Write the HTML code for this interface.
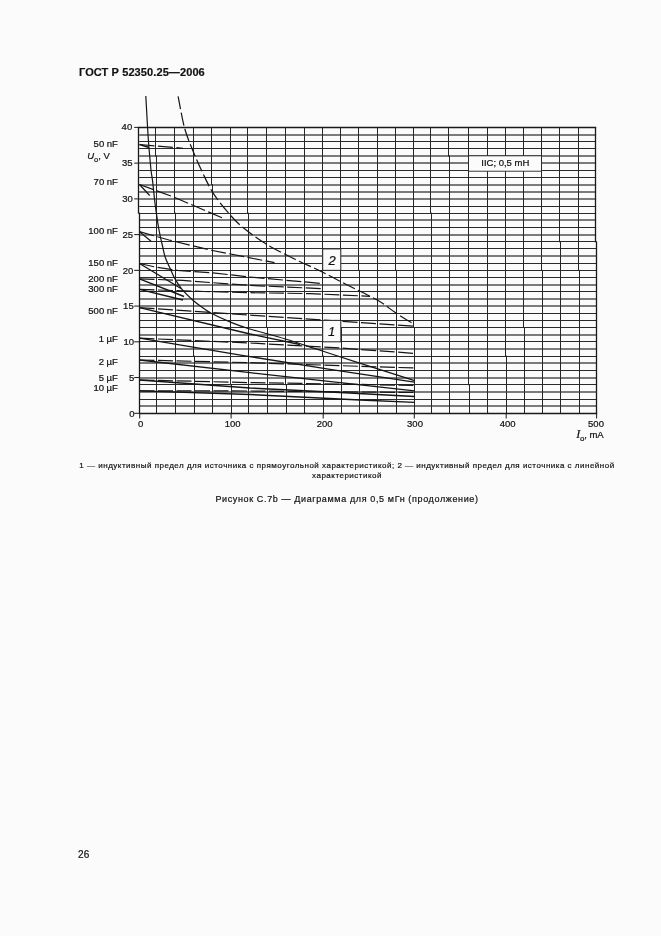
<!DOCTYPE html>
<html lang="ru"><head><meta charset="utf-8"><title>ГОСТ Р 52350.25—2006</title>
<style>
html,body{margin:0;padding:0;background:#fbfbfb;}
body{width:661px;height:936px;position:relative;overflow:hidden;font-family:"Liberation Sans",sans-serif;color:#111;-webkit-text-stroke:0.2px #111;}
svg{position:absolute;left:0;top:0;will-change:transform;}
.hdr,.note,.cap,.pn{will-change:transform;}
svg text{font-family:"Liberation Sans",sans-serif;fill:#111;stroke:#111;stroke-width:0.22px;}
.t9{font-size:9.5px;}
.lab{font-size:13px;font-style:italic;}
.gh{stroke:#2a2a2a;stroke-width:1;}
.gg{stroke:#505050;stroke-width:1.3;}
.gv{stroke:#262626;stroke-width:1;}
.fr{fill:none;stroke:#1a1a1a;stroke-width:1.3;}
.tk{stroke:#1a1a1a;stroke-width:1;}
.cs{fill:none;stroke:#151515;stroke-width:1.2;}
.cd2{fill:none;stroke:#151515;stroke-width:1.2;stroke-dasharray:13 3.5;}
.ls{fill:none;stroke:#151515;stroke-width:1.35;}
.ld{fill:none;stroke:#151515;stroke-width:1.2;stroke-dasharray:15 3.5;}
.hdr{position:absolute;left:78.5px;top:65.5px;font-size:11px;font-weight:bold;letter-spacing:0.1px;white-space:nowrap;line-height:13px;}
.note{position:absolute;left:46.5px;width:600px;top:461.2px;font-size:8px;line-height:10px;text-align:center;letter-spacing:0.5px;white-space:nowrap;}
.cap{position:absolute;left:46.5px;width:600px;top:493.2px;font-size:9px;text-align:center;letter-spacing:0.63px;line-height:12px;white-space:nowrap;}
.pn{position:absolute;left:77.8px;top:848.6px;font-size:10px;line-height:12px;letter-spacing:0.2px;}
</style></head><body>
<div class="hdr">ГОСТ Р 52350.25—2006</div>
<svg width="661" height="936" viewBox="0 0 661 936">
<line x1="139.2" y1="406.00" x2="596.1" y2="406.00" class="gg"/>
<line x1="139.2" y1="399.50" x2="596.1" y2="399.50" class="gh"/>
<line x1="139.2" y1="392.00" x2="596.1" y2="392.00" class="gg"/>
<line x1="139.2" y1="384.50" x2="596.1" y2="384.50" class="gh"/>
<line x1="139.2" y1="378.00" x2="596.1" y2="378.00" class="gg"/>
<line x1="139.2" y1="370.50" x2="596.1" y2="370.50" class="gh"/>
<line x1="139.2" y1="363.00" x2="596.1" y2="363.00" class="gg"/>
<line x1="139.2" y1="356.50" x2="596.1" y2="356.50" class="gh"/>
<line x1="139.2" y1="349.00" x2="596.1" y2="349.00" class="gg"/>
<line x1="139.2" y1="341.50" x2="596.1" y2="341.50" class="gh"/>
<line x1="139.2" y1="335.00" x2="596.1" y2="335.00" class="gg"/>
<line x1="139.2" y1="327.50" x2="596.1" y2="327.50" class="gh"/>
<line x1="139.2" y1="320.50" x2="596.1" y2="320.50" class="gh"/>
<line x1="139.2" y1="313.50" x2="596.1" y2="313.50" class="gh"/>
<line x1="139.2" y1="306.00" x2="596.1" y2="306.00" class="gg"/>
<line x1="139.2" y1="299.00" x2="596.1" y2="299.00" class="gg"/>
<line x1="139.2" y1="291.50" x2="596.1" y2="291.50" class="gh"/>
<line x1="139.2" y1="285.00" x2="596.1" y2="285.00" class="gg"/>
<line x1="139.2" y1="277.50" x2="596.1" y2="277.50" class="gh"/>
<line x1="139.2" y1="270.50" x2="596.1" y2="270.50" class="gh"/>
<line x1="139.2" y1="263.50" x2="596.1" y2="263.50" class="gh"/>
<line x1="139.2" y1="256.00" x2="596.1" y2="256.00" class="gg"/>
<line x1="139.2" y1="248.50" x2="596.1" y2="248.50" class="gh"/>
<line x1="139.2" y1="241.50" x2="596.1" y2="241.50" class="gh"/>
<line x1="139.2" y1="235.00" x2="596.1" y2="235.00" class="gg"/>
<line x1="139.2" y1="227.50" x2="596.1" y2="227.50" class="gh"/>
<line x1="139.2" y1="220.00" x2="596.1" y2="220.00" class="gg"/>
<line x1="139.2" y1="213.50" x2="596.1" y2="213.50" class="gh"/>
<line x1="139.2" y1="206.50" x2="596.1" y2="206.50" class="gh"/>
<line x1="139.2" y1="199.00" x2="596.1" y2="199.00" class="gg"/>
<line x1="139.2" y1="192.00" x2="596.1" y2="192.00" class="gg"/>
<line x1="139.2" y1="185.00" x2="596.1" y2="185.00" class="gg"/>
<line x1="139.2" y1="177.50" x2="596.1" y2="177.50" class="gh"/>
<line x1="139.2" y1="170.50" x2="596.1" y2="170.50" class="gh"/>
<line x1="139.2" y1="163.00" x2="596.1" y2="163.00" class="gg"/>
<line x1="139.2" y1="156.00" x2="596.1" y2="156.00" class="gg"/>
<line x1="139.2" y1="148.50" x2="596.1" y2="148.50" class="gh"/>
<line x1="139.2" y1="141.50" x2="596.1" y2="141.50" class="gh"/>
<line x1="139.2" y1="135.00" x2="596.1" y2="135.00" class="gg"/>
<line x1="155.5" y1="127.4" x2="155.5" y2="156.5" class="gv"/>
<line x1="156.5" y1="155.5" x2="156.5" y2="413.3" class="gv"/>
<line x1="174.5" y1="127.4" x2="174.5" y2="213.7" class="gv"/>
<line x1="175.5" y1="212.7" x2="175.5" y2="413.3" class="gv"/>
<line x1="193.5" y1="127.4" x2="193.5" y2="356.6" class="gv"/>
<line x1="194.5" y1="355.6" x2="194.5" y2="413.3" class="gv"/>
<line x1="211.5" y1="127.4" x2="211.5" y2="185.1" class="gv"/>
<line x1="212.5" y1="184.1" x2="212.5" y2="413.3" class="gv"/>
<line x1="230.5" y1="127.4" x2="230.5" y2="385.2" class="gv"/>
<line x1="231.5" y1="384.2" x2="231.5" y2="413.3" class="gv"/>
<line x1="247.5" y1="127.4" x2="247.5" y2="213.7" class="gv"/>
<line x1="248.5" y1="212.7" x2="248.5" y2="413.3" class="gv"/>
<line x1="266.5" y1="127.4" x2="266.5" y2="328.0" class="gv"/>
<line x1="267.5" y1="327.0" x2="267.5" y2="413.3" class="gv"/>
<line x1="285.5" y1="127.4" x2="285.5" y2="385.2" class="gv"/>
<line x1="286.5" y1="384.2" x2="286.5" y2="413.3" class="gv"/>
<line x1="304.5" y1="127.4" x2="304.5" y2="413.8" class="gv"/>
<line x1="305.5" y1="412.8" x2="305.5" y2="413.3" class="gv"/>
<line x1="322.5" y1="127.4" x2="322.5" y2="356.6" class="gv"/>
<line x1="323.5" y1="355.6" x2="323.5" y2="413.3" class="gv"/>
<line x1="340.5" y1="127.4" x2="340.5" y2="328.0" class="gv"/>
<line x1="341.5" y1="327.0" x2="341.5" y2="413.3" class="gv"/>
<line x1="358.5" y1="127.4" x2="358.5" y2="270.9" class="gv"/>
<line x1="359.5" y1="269.9" x2="359.5" y2="413.3" class="gv"/>
<line x1="377.5" y1="127.4" x2="377.5" y2="413.8" class="gv"/>
<line x1="378.5" y1="412.8" x2="378.5" y2="413.3" class="gv"/>
<line x1="395.5" y1="127.4" x2="395.5" y2="270.9" class="gv"/>
<line x1="396.5" y1="269.9" x2="396.5" y2="413.3" class="gv"/>
<line x1="413.5" y1="127.4" x2="413.5" y2="328.0" class="gv"/>
<line x1="414.5" y1="327.0" x2="414.5" y2="413.3" class="gv"/>
<line x1="430.5" y1="127.4" x2="430.5" y2="213.7" class="gv"/>
<line x1="431.5" y1="212.7" x2="431.5" y2="413.3" class="gv"/>
<line x1="448.5" y1="127.4" x2="448.5" y2="156.5" class="gv"/>
<line x1="449.5" y1="155.5" x2="449.5" y2="413.3" class="gv"/>
<line x1="468.5" y1="127.4" x2="468.5" y2="385.2" class="gv"/>
<line x1="469.5" y1="384.2" x2="469.5" y2="413.3" class="gv"/>
<line x1="487.5" y1="127.4" x2="487.5" y2="413.8" class="gv"/>
<line x1="488.5" y1="412.8" x2="488.5" y2="413.3" class="gv"/>
<line x1="505.5" y1="127.4" x2="505.5" y2="356.6" class="gv"/>
<line x1="506.5" y1="355.6" x2="506.5" y2="413.3" class="gv"/>
<line x1="523.5" y1="127.4" x2="523.5" y2="328.0" class="gv"/>
<line x1="524.5" y1="327.0" x2="524.5" y2="413.3" class="gv"/>
<line x1="541.5" y1="127.4" x2="541.5" y2="270.9" class="gv"/>
<line x1="542.5" y1="269.9" x2="542.5" y2="413.3" class="gv"/>
<line x1="559.5" y1="127.4" x2="559.5" y2="242.3" class="gv"/>
<line x1="560.5" y1="241.3" x2="560.5" y2="413.3" class="gv"/>
<line x1="578.5" y1="127.4" x2="578.5" y2="270.9" class="gv"/>
<line x1="579.5" y1="269.9" x2="579.5" y2="413.3" class="gv"/>
<line x1="138.5" y1="127.4" x2="138.5" y2="213.7" class="fr"/>
<line x1="139.5" y1="212.7" x2="139.5" y2="413.3" class="fr"/>
<line x1="595.5" y1="127.4" x2="595.5" y2="242.3" class="fr"/>
<line x1="596.5" y1="241.3" x2="596.5" y2="413.3" class="fr"/>
<line x1="138.1" y1="127.5" x2="596.2" y2="127.5" class="fr"/>
<line x1="139.1" y1="413.5" x2="597.2" y2="413.5" class="fr"/>
<line x1="134.2" y1="413.30" x2="139.2" y2="413.30" class="tk"/>
<text x="134.6" y="417.0" class="t9" text-anchor="end">0</text>
<line x1="134.2" y1="377.56" x2="139.2" y2="377.56" class="tk"/>
<text x="134.3" y="381.1" class="t9" text-anchor="end">5</text>
<line x1="134.2" y1="341.83" x2="139.2" y2="341.83" class="tk"/>
<text x="134.0" y="345.2" class="t9" text-anchor="end">10</text>
<line x1="134.2" y1="306.09" x2="139.2" y2="306.09" class="tk"/>
<text x="133.7" y="309.3" class="t9" text-anchor="end">15</text>
<line x1="134.2" y1="270.35" x2="139.2" y2="270.35" class="tk"/>
<text x="133.4" y="273.5" class="t9" text-anchor="end">20</text>
<line x1="134.2" y1="234.61" x2="139.2" y2="234.61" class="tk"/>
<text x="133.1" y="237.6" class="t9" text-anchor="end">25</text>
<line x1="134.2" y1="198.88" x2="139.2" y2="198.88" class="tk"/>
<text x="132.8" y="201.7" class="t9" text-anchor="end">30</text>
<line x1="134.2" y1="163.14" x2="139.2" y2="163.14" class="tk"/>
<text x="132.5" y="165.8" class="t9" text-anchor="end">35</text>
<line x1="134.2" y1="127.40" x2="139.2" y2="127.40" class="tk"/>
<text x="132.2" y="129.9" class="t9" text-anchor="end">40</text>
<line x1="139.70" y1="413.3" x2="139.70" y2="418.5" class="tk"/>
<text x="140.6" y="427.2" class="t9" text-anchor="middle">0</text>
<line x1="231.10" y1="413.3" x2="231.10" y2="418.5" class="tk"/>
<text x="232.6" y="427.2" class="t9" text-anchor="middle">100</text>
<line x1="323.20" y1="413.3" x2="323.20" y2="418.5" class="tk"/>
<text x="324.6" y="427.2" class="t9" text-anchor="middle">200</text>
<line x1="414.30" y1="413.3" x2="414.30" y2="418.5" class="tk"/>
<text x="415.0" y="427.2" class="t9" text-anchor="middle">300</text>
<line x1="506.20" y1="413.3" x2="506.20" y2="418.5" class="tk"/>
<text x="507.6" y="427.2" class="t9" text-anchor="middle">400</text>
<line x1="596.60" y1="413.3" x2="596.60" y2="418.5" class="tk"/>
<text x="596.0" y="427.2" class="t9" text-anchor="middle">500</text>
<path d="M145.8,96.0 C146.1,101.3 147.1,119.3 147.6,128.0 C148.1,136.7 148.4,141.0 149.0,148.0 C149.6,155.0 150.4,164.3 151.0,170.0 C151.6,175.7 152.0,175.9 152.7,182.0 C153.4,188.1 154.3,198.3 155.4,206.3 C156.5,214.3 157.8,223.4 159.0,230.0 C160.2,236.6 161.4,241.4 162.5,246.0 C163.6,250.6 164.1,254.0 165.3,257.5 C166.5,261.0 167.9,263.5 169.5,267.0 C171.1,270.5 172.7,274.7 174.7,278.3 C176.7,281.9 178.5,285.2 181.6,288.9 C184.7,292.6 189.5,297.2 193.2,300.5 C196.9,303.8 200.7,306.3 203.8,308.5 C206.9,310.7 207.0,311.1 211.7,313.5 C216.3,315.9 225.3,320.0 231.7,322.6 C238.0,325.2 240.9,326.3 249.8,329.0 C258.8,331.7 273.4,335.4 285.4,339.0 C297.4,342.6 309.6,346.9 321.7,350.8 C333.8,354.7 342.5,357.6 358.0,362.6 C373.5,367.6 405.2,377.6 414.6,380.6" class="cs"/>
<path d="M178.1,96.4 C179.2,101.6 182.1,118.9 184.5,127.8 C186.9,136.7 189.6,142.5 192.6,150.0 C195.6,157.5 199.1,165.4 202.6,172.7 C206.1,180.0 209.1,186.8 213.5,193.6 C217.9,200.4 224.1,208.0 229.0,213.6 C233.9,219.2 236.6,222.3 242.7,227.3 C248.8,232.3 256.8,238.3 265.4,243.6 C274.0,248.9 285.1,254.3 294.5,259.0 C303.9,263.7 313.1,267.4 321.7,271.7 C330.3,275.9 337.1,279.8 346.3,284.5 C355.6,289.2 369.0,295.3 377.2,300.0 C385.4,304.7 389.1,308.5 395.3,312.6 C401.5,316.7 411.2,322.5 414.4,324.5" class="cd2"/>
<path d="M139.5,144.5 L149.0,147.5" class="ls"/>
<path d="M139.5,144.5 L183.0,148.3" class="ld"/>
<path d="M139.5,184.5 L152.0,198.0" class="ld"/>
<path d="M139.5,184.5 L173.6,197.0 L222.6,218.0" class="ld"/>
<path d="M139.5,231.7 L152.0,242.0" class="ld"/>
<path d="M139.5,231.7 L169.0,240.0 L210.0,250.0 L246.0,257.0 L274.5,262.7" class="ld"/>
<path d="M139.5,263.5 L181.0,288.5" class="ls"/>
<path d="M139.5,263.5 L156.2,267.2 L177.4,270.4 L211.7,272.7 L250.0,277.0 L321.7,283.5" class="ld"/>
<path d="M139.5,278.8 L184.0,296.5" class="ls"/>
<path d="M139.5,278.8 L182.7,280.4 L224.4,283.6 L250.0,285.4 L321.7,288.6" class="ld"/>
<path d="M139.5,289.4 L183.0,300.0" class="ls"/>
<path d="M139.5,289.4 L203.8,291.5 L250.0,292.7 L310.0,293.6 L370.0,296.3" class="ld"/>
<path d="M139.5,307.7 L250.0,334.0 L300.0,344.5" class="ls"/>
<path d="M139.5,307.7 L240.0,314.5 L321.7,320.0 L414.4,326.3" class="ld"/>
<path d="M139.5,338.2 L245.0,355.8 L330.0,369.3 L414.4,382.2" class="ls"/>
<path d="M139.5,338.2 L250.0,343.0 L340.0,348.0 L414.6,353.4" class="ld"/>
<path d="M139.5,360.0 L250.0,372.7 L340.0,382.6 L414.6,390.8" class="ls"/>
<path d="M139.5,360.0 L250.0,362.7 L360.0,366.3 L414.6,368.0" class="ld"/>
<path d="M139.5,380.0 L250.0,388.0 L340.0,392.5 L414.6,396.5" class="ls"/>
<path d="M139.5,380.0 L250.0,382.6 L360.0,384.4 L414.6,385.5" class="ld"/>
<path d="M139.5,390.8 L250.0,394.5 L360.0,400.0 L414.6,402.4" class="ls"/>
<path d="M139.5,390.8 L250.0,391.0 L414.6,392.5" class="ld"/>
<rect x="322.7" y="248.91" width="18.1" height="21.44" fill="#fbfbfb" stroke="#2a2a2a" stroke-width="1"/>
<text x="332.1" y="264.8" class="lab" text-anchor="middle">2</text>
<rect x="322.7" y="320.38" width="18.1" height="21.44" fill="#fbfbfb" stroke="#2a2a2a" stroke-width="1"/>
<text x="331.6" y="336.2" class="lab" text-anchor="middle">1</text>
<rect x="468.5" y="155.8" width="73" height="15.4" fill="#fbfbfb" stroke="#222" stroke-width="0.9"/>
<text x="505.3" y="165.9" class="t9" text-anchor="middle">IIC; 0,5 mH</text>
<text x="117.9" y="147.3" class="t9" text-anchor="end">50 nF</text>
<text x="117.9" y="184.6" class="t9" text-anchor="end">70 nF</text>
<text x="117.9" y="233.5" class="t9" text-anchor="end">100 nF</text>
<text x="117.9" y="266.2" class="t9" text-anchor="end">150 nF</text>
<text x="117.9" y="281.7" class="t9" text-anchor="end">200 nF</text>
<text x="117.9" y="292.3" class="t9" text-anchor="end">300 nF</text>
<text x="117.9" y="313.5" class="t9" text-anchor="end">500 nF</text>
<text x="117.9" y="342.3" class="t9" text-anchor="end">1 µF</text>
<text x="117.9" y="365.0" class="t9" text-anchor="end">2 µF</text>
<text x="117.9" y="381.4" class="t9" text-anchor="end">5 µF</text>
<text x="117.9" y="391.4" class="t9" text-anchor="end">10 µF</text>
<text x="87.2" y="159.3" class="t9"><tspan font-style="italic">U</tspan><tspan font-size="7.5" dy="3">o</tspan><tspan dy="-3">, V</tspan></text>
<text x="576.3" y="437.6" class="t9"><tspan font-family="Liberation Serif" font-style="italic" font-size="12">I</tspan><tspan font-size="8" dy="3" dx="-0.3">o</tspan><tspan dy="-3" dx="-0.3">, mA</tspan></text>
</svg>
<div class="note">1 — индуктивный предел для источника с прямоугольной характеристикой; 2 — индуктивный предел для источника с линейной<br>характеристикой</div>
<div class="cap">Рисунок С.7b — Диаграмма для 0,5 мГн (продолжение)</div>
<div class="pn">26</div>
</body></html>
